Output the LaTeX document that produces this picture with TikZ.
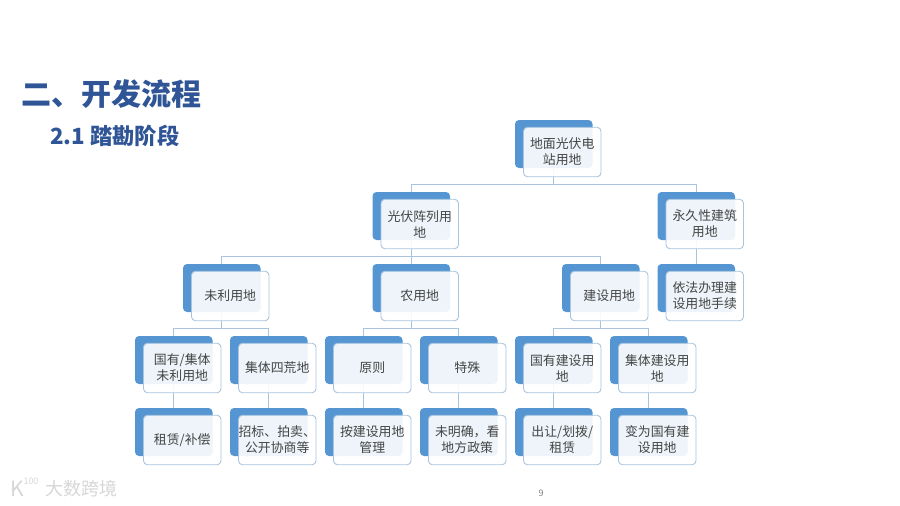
\documentclass[tikz,border=0pt]{standalone}
\usepackage{fontspec}
\setmainfont{Noto Sans CJK SC}
\usetikzlibrary{backgrounds}
\definecolor{backblue}{HTML}{5596D2}
\definecolor{edgeblue}{HTML}{A9C4DE}
\definecolor{titleblue}{HTML}{2F5597}
\definecolor{bodygray}{HTML}{454545}
\tikzset{
  backbox/.style={fill=backblue,rounded corners=4pt,minimum width=77.5pt,minimum height=48pt,inner sep=0pt},
  frontbox/.style={draw=edgeblue,line width=.9pt,fill=white,fill opacity=.9,text opacity=1,rounded corners=4pt,
    minimum width=77.5pt,minimum height=49.5pt,inner sep=0pt,align=center,text=bodygray,
    font=\fontsize{12.9}{16}\selectfont},
  link/.style={draw=edgeblue,line width=1pt},
  titletext/.style={text=titleblue,font=\fontsize{30}{34}\selectfont\bfseries,anchor=west,inner sep=0pt},
  subtext/.style={text=titleblue,font=\fontsize{22.3}{26}\selectfont\bfseries,anchor=west,inner sep=0pt},
  marktext/.style={text=black!16,inner sep=0pt},
}
\newcommand{\cardpair}[4]{%
  \node[backbox] (#1b) at (#2+38.75,#3+24) {};
  \node[frontbox] (#1) at (#2+47.25,#3+32) {#4};
}
\newcommand{\hublink}[3]{%
  \foreach \kid in {#3} {
    \draw[link] (#1b.south) -- (#1b.south |- #2) -| (\kid b.north);
  }
}
\newcommand{\straightlink}[2]{\draw[link] (#1b.south) -- (#2b.north);}
\begin{document}
\begin{tikzpicture}[x=1pt,y=-1pt]
\useasboundingbox (0,0) rectangle (900,506);
\coordinate (hubA) at (0,184);
\coordinate (hubB) at (0,256);
\coordinate (hubC) at (0,328);

\node[titletext] (title) at (21.5,94) {二、开发流程};
\node[subtext] (subtitle) at (50,136) {2.1 踏勘阶段};

\cardpair{root}{515}{120}{地面光伏电\\站用地}
\cardpair{pv}{372.5}{192}{光伏阵列用\\地}
\cardpair{perm}{657.5}{192}{永久性建筑\\用地}
\cardpair{unused}{183}{264}{未利用地}
\cardpair{farm}{372.5}{264}{农用地}
\cardpair{build}{562}{264}{建设用地}
\cardpair{legal}{657.5}{264}{依法办理建\\设用地手续}
\cardpair{ua}{135}{336}{国有/集体\\未利用地}
\cardpair{ub}{230}{336}{集体四荒地}
\cardpair{fa}{325}{336}{原则}
\cardpair{fb}{420}{336}{特殊}
\cardpair{ba}{515}{336}{国有建设用\\地}
\cardpair{bb}{610}{336}{集体建设用\\地}
\cardpair{uc}{135}{408}{租赁/补偿}
\cardpair{ud}{230}{408}{招标、拍卖、\\公开协商等}
\cardpair{fc}{325}{408}{按建设用地\\管理}
\cardpair{fd}{420}{408}{未明确，看\\地方政策}
\cardpair{bc}{515}{408}{出让/划拨/\\租赁}
\cardpair{bd}{610}{408}{变为国有建\\设用地}

\begin{scope}[on background layer]
  \hublink{root}{hubA}{pv,perm}
  \hublink{pv}{hubB}{unused,farm,build}
  \hublink{unused}{hubC}{ua,ub}
  \hublink{farm}{hubC}{fa,fb}
  \hublink{build}{hubC}{ba,bb}
  \straightlink{perm}{legal}
  \straightlink{ua}{uc}
  \straightlink{ub}{ud}
  \straightlink{fa}{fc}
  \straightlink{fb}{fd}
  \straightlink{ba}{bc}
  \straightlink{bb}{bd}
\end{scope}

\node[text=black!50,font=\fontsize{9}{11}\selectfont,inner sep=0pt] (pageno) at (541,493) {9};
\node[marktext,font=\fontsize{21}{24}\selectfont] (markk) at (17,489) {K};
\node[marktext,font=\fontsize{9}{11}\selectfont] (markn) at (31,481) {100};
\node[marktext,font=\fontsize{18}{22}\selectfont,anchor=west] (markt) at (45,489) {大数跨境};
\end{tikzpicture}
\end{document}
